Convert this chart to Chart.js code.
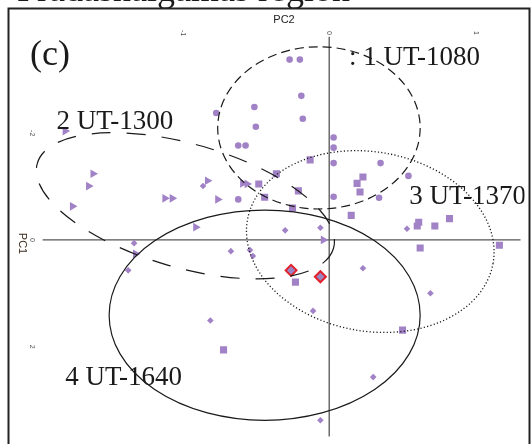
<!DOCTYPE html>
<html>
<head>
<meta charset="utf-8">
<script src="https://cdn.jsdelivr.net/npm/chart.js@4"></script>
<style>
  html, body { margin: 0; padding: 0; background: #ffffff; }
  #wrap { width: 532px; height: 444px; position: relative; overflow: hidden; }
</style>
</head>
<body>
<div id="wrap"><canvas id="c" width="532" height="444"></canvas></div>
<script>
// ---------------- data (PC2 = horizontal, PC1 = vertical, PC1 grows downward) ----------------
const ut1080PC2 = [-0.77, -0.62, -0.57, -0.51, -0.50, -0.27, -0.20, -0.19, -0.18, 0.03, 0.03, 0.03, 0.35, 0.54, 0.03, 0.34, -0.62];
const ut1080PC1 = [-2.38, -1.77, -1.77, -2.49, -2.12, -3.38, -3.38, -2.70, -2.27, -1.92, -1.73, -1.44, -1.44, -1.20, -0.81, -0.79, -0.76];

const ut1300PC2 = [-1.80, -1.61, -1.64, -1.75, -1.12, -1.07, -0.83, -0.76, -0.59, -0.56, -0.91, -1.32, -0.04];
const ut1300PC1 = [-2.04, -1.24, -1.01, -0.63, -0.78, -0.78, -1.11, -0.76, -1.06, -1.05, -0.24, 0.26, 0.00];

const ut1370PC2 = [-0.48, -0.44, -0.36, -0.25, -0.21, -0.13, 0.15, 0.19, 0.23, 0.21, 0.61, 0.60, 0.72, 0.82, 0.62, 1.16, -0.23, 0.50, -0.72];
const ut1370PC1 = [-1.05, -0.80, -1.24, -0.60, -0.92, -1.50, -0.46, -1.06, -1.18, -0.90, -0.33, -0.26, -0.26, -0.40, 0.15, 0.10, 0.79, 1.69, 2.06];

const ut1640PC2 = [-0.86, -1.33, -1.37, -0.67, -0.54, -0.52, -0.30, -0.06, 0.53, 0.23, 0.69, -0.11, 0.30, -0.06, -0.81];
const ut1640PC1 = [-1.01, 0.06, 0.57, 0.21, 0.19, 0.30, -0.18, -0.23, -0.21, 0.53, 1.00, 1.33, 2.57, 3.38, 1.51];

const markedPC2 = [-0.26, -0.06];
const markedPC1 = [0.57, 0.69];

const groupLabels = [': 1 UT-1080', '2 UT-1300', '3 UT-1370', '4 UT-1640'];
const labelPC2 = [0.135, -1.858, 0.545, -1.799];
const labelPC1 = [-3.278, -2.081, -0.681, 2.726];

// ellipse centres / semi-axes in axis units, tilt in degrees
const ellipseCX = [-0.07, -0.98, 0.28, -0.44];
const ellipseCY = [-2.10, -0.64, 0.03, 1.41];
const ellipseRX = [0.69, 1.05, 0.85, 1.06];
const ellipseRY = [1.52, 1.16, 1.68, 1.97];
const ellipseTilt = [0, 16, 10, 0];

const pc2Ticks = [-1, 0, 1];
const pc1Ticks = [-2, 0, 2];

const titleText = 'Pradashaigamas region';
const panelText = '(c)';

// ---------------- helpers ----------------
const zip = (xs, ys) => xs.map((x, i) => ({ x: x, y: ys[i] }));
const PURPLE = '#a182c6';
const INK = '#1a1a1a';
const ellipseDash = [[9, 5], [19, 16], [1.2, 2.2], []];

const overlay = {
  id: 'overlay',
  beforeDatasetsDraw(chart) {
    const { ctx, chartArea: a } = chart;
    const xs = chart.scales.x, ys = chart.scales.y;
    ctx.save();
    // zero axes
    ctx.strokeStyle = '#555';
    ctx.lineWidth = 1.3;
    const y0 = ys.getPixelForValue(0), x0 = xs.getPixelForValue(0);
    ctx.beginPath();
    ctx.moveTo(xs.getPixelForValue(-1.953), y0);
    ctx.lineTo(xs.getPixelForValue(1.304), y0);
    ctx.moveTo(x0, ys.getPixelForValue(-3.81));
    ctx.lineTo(x0, a.bottom);
    ctx.stroke();

    // tick labels (rotated)
    ctx.fillStyle = '#555';
    ctx.font = '7px "Liberation Sans", Arial, sans-serif';
    ctx.textAlign = 'center';
    ctx.textBaseline = 'middle';
    pc2Ticks.forEach(t => {
      ctx.save();
      ctx.translate(xs.getPixelForValue(t), 33);
      ctx.rotate(Math.PI / 2);
      ctx.fillText(String(t), 0, 0);
      ctx.restore();
    });
    pc1Ticks.forEach(t => {
      ctx.save();
      ctx.translate(32, ys.getPixelForValue(t));
      ctx.rotate(Math.PI / 2);
      ctx.fillText(String(t), 0, 0);
      ctx.restore();
    });

    // axis titles
    ctx.fillStyle = '#222';
    ctx.font = '11px "Liberation Sans", Arial, sans-serif';
    ctx.fillText('PC2', 284, 20);
    ctx.save();
    ctx.translate(22, 243.5);
    ctx.rotate(Math.PI / 2);
    ctx.fillStyle = '#3b2a1c';
    ctx.fillText('PC1', 0, 0);
    ctx.restore();
    ctx.restore();
  },
  afterDatasetsDraw(chart) {
    const { ctx, chartArea: a } = chart;
    const xs = chart.scales.x, ys = chart.scales.y;
    ctx.save();
    ctx.beginPath();
    ctx.rect(a.left, a.top, a.right - a.left, a.bottom - a.top);
    ctx.clip();
    // ellipses
    ellipseCX.forEach((cxv, i) => {
      const cx = xs.getPixelForValue(cxv), cy = ys.getPixelForValue(ellipseCY[i]);
      const rx = Math.abs(xs.getPixelForValue(cxv + ellipseRX[i]) - cx);
      const ry = Math.abs(ys.getPixelForValue(ellipseCY[i] + ellipseRY[i]) - cy);
      ctx.beginPath();
      ctx.setLineDash(ellipseDash[i]);
      ctx.strokeStyle = INK;
      ctx.lineWidth = i === 2 ? 1.3 : 1.2;
      ctx.ellipse(cx, cy, rx, ry, ellipseTilt[i] * Math.PI / 180, 0, Math.PI * 2);
      ctx.stroke();
    });
    ctx.setLineDash([]);
    // group labels
    ctx.fillStyle = INK;
    ctx.textAlign = 'left';
    ctx.textBaseline = 'alphabetic';
    ctx.font = '27px "Liberation Serif", "Times New Roman", serif';
    groupLabels.forEach((t, i) => {
      ctx.fillText(t, xs.getPixelForValue(labelPC2[i]), ys.getPixelForValue(labelPC1[i]));
    });
    ctx.font = '36px "Liberation Serif", "Times New Roman", serif';
    ctx.fillText(panelText, 30, 65);
    ctx.restore();

    // title (mostly above the page) and frame
    ctx.save();
    ctx.fillStyle = INK;
    ctx.font = '36px "Liberation Serif", "Times New Roman", serif';
    ctx.textAlign = 'left';
    ctx.textBaseline = 'alphabetic';
    ctx.fillText(titleText, 17, 1);
    ctx.strokeStyle = '#222';
    ctx.lineWidth = 2;
    ctx.strokeRect(8.5, 8.5, 521, 460);
    ctx.restore();
  }
};

new Chart(document.getElementById('c'), {
  type: 'scatter',
  data: {
    datasets: [
      { label: '1 UT-1080', data: zip(ut1080PC2, ut1080PC1), pointStyle: 'circle', pointRadius: 3.3,
        backgroundColor: PURPLE, borderColor: PURPLE, borderWidth: 0 },
      { label: '2 UT-1300', data: zip(ut1300PC2, ut1300PC1), pointStyle: 'triangle', pointRotation: 90, pointRadius: 5,
        backgroundColor: PURPLE, borderColor: PURPLE, borderWidth: 0 },
      { label: '3 UT-1370', data: zip(ut1370PC2, ut1370PC1), pointStyle: 'rect', pointRadius: 5,
        backgroundColor: PURPLE, borderColor: PURPLE, borderWidth: 0 },
      { label: '4 UT-1640', data: zip(ut1640PC2, ut1640PC1), pointStyle: 'rectRot', pointRadius: 3.3,
        backgroundColor: PURPLE, borderColor: PURPLE, borderWidth: 0 },
      { label: 'marked', data: zip(markedPC2, markedPC1), pointStyle: 'rectRot', pointRadius: 5.5,
        backgroundColor: '#9a86c0', borderColor: '#e3202a', borderWidth: 2 }
    ]
  },
  options: {
    responsive: false,
    animation: false,
    events: [],
    layout: { padding: { left: 9, top: 9, right: 3, bottom: 0 } },
    scales: {
      x: { type: 'linear', min: -2.1824, max: 1.3311, display: false },
      y: { type: 'linear', min: -4.3278, max: 3.6832, reverse: true, display: false }
    },
    plugins: { legend: { display: false }, tooltip: { enabled: false } }
  },
  plugins: [overlay]
});
</script>
</body>
</html>
